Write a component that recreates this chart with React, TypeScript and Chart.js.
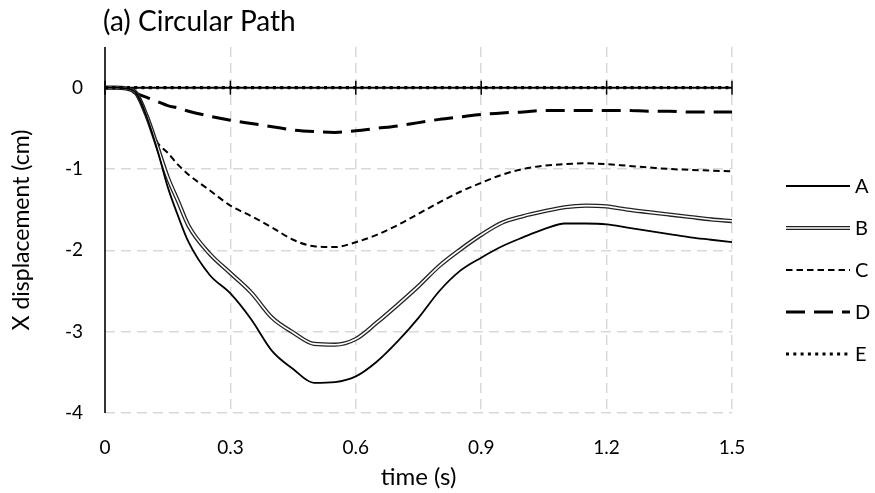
import React, { useEffect, useRef } from 'react';
import { Chart, registerables } from 'chart.js';

Chart.register(...registerables);

// ---- data (time in s, X displacement in cm) ----
const times = [
  0, 0.025, 0.05, 0.075, 0.1, 0.125, 0.15, 0.175, 0.2, 0.25, 0.3, 0.35, 0.4, 0.45,
  0.5, 0.55, 0.6, 0.65, 0.7, 0.75, 0.8, 0.85, 0.9, 0.95, 1.0, 1.05, 1.1, 1.15, 1.2,
  1.25, 1.3, 1.35, 1.4, 1.45, 1.5,
];
const seriesA = [
  0, 0, -0.01, -0.07, -0.36, -0.76, -1.22, -1.58, -1.9, -2.3, -2.53, -2.85, -3.24, -3.46,
  -3.63, -3.62, -3.55, -3.37, -3.12, -2.83, -2.5, -2.25, -2.09, -1.95, -1.84, -1.74, -1.67,
  -1.67, -1.68, -1.72, -1.76, -1.8, -1.84, -1.87, -1.9,
];
const seriesB = [
  0, 0, -0.01, -0.07, -0.35, -0.72, -1.1, -1.4, -1.7, -2.04, -2.28, -2.52, -2.83, -3.01,
  -3.15, -3.16, -3.09, -2.89, -2.67, -2.44, -2.19, -1.99, -1.81, -1.66, -1.58, -1.52, -1.47,
  -1.45, -1.46, -1.5, -1.53, -1.56, -1.59, -1.62, -1.64,
];
const seriesC = [
  0, 0, -0.01, -0.07, -0.36, -0.67, -0.8, -0.95, -1.07, -1.26, -1.45, -1.58, -1.72, -1.87,
  -1.95, -1.96, -1.9, -1.81, -1.69, -1.55, -1.41, -1.28, -1.17, -1.07, -1.0, -0.96, -0.94,
  -0.93, -0.94, -0.96, -0.98, -1.0, -1.01, -1.02, -1.03,
];
const seriesD = [
  0, 0, -0.01, -0.07, -0.12, -0.17, -0.22, -0.25, -0.29, -0.35, -0.4, -0.44, -0.48, -0.52,
  -0.54, -0.55, -0.53, -0.5, -0.47, -0.43, -0.39, -0.36, -0.33, -0.31, -0.3, -0.28, -0.28,
  -0.28, -0.28, -0.28, -0.29, -0.29, -0.3, -0.3, -0.3,
];
const seriesE = [
  0, 0, 0, 0, 0, 0, 0, 0, 0, 0, 0, 0, 0, 0, 0, 0, 0, 0, 0, 0, 0, 0, 0, 0, 0, 0, 0, 0, 0,
  0, 0, 0, 0, 0, 0,
];
const legendLabels = ['A', 'B', 'C', 'D', 'E'];
const xTicks = [0, 0.3, 0.6, 0.9, 1.2, 1.5];
const yTicks = [0, -1, -2, -3, -4];
const chartTitle = '(a) Circular Path';
const xTitle = 'time (s)';
const yTitle = 'X displacement (cm)';

const FONT = 'Lato, "Open Sans", sans-serif';

export default function App() {
  const ref = useRef<HTMLCanvasElement>(null);

  useEffect(() => {
    document.body.style.margin = '0';
    const canvas = ref.current;
    if (!canvas) return;

    const pts = (vals: number[]) => times.map((t, i) => ({ x: t, y: vals[i] }));
    const base = {
      pointRadius: 0,
      pointHoverRadius: 0,
      fill: false,
      cubicInterpolationMode: 'monotone' as const,
      borderJoinStyle: 'round' as const,
    };

    const datasets: any[] = [
      { label: 'A', data: pts(seriesA), borderColor: '#000', borderWidth: 1.8, order: 1, ...base },
      { label: 'B', data: pts(seriesB), borderColor: '#222', borderWidth: 4.2, order: 3, ...base },
      { label: 'B', inner: true, data: pts(seriesB), borderColor: '#fff', borderWidth: 1.6, order: 2, ...base },
      { label: 'C', data: pts(seriesC), borderColor: '#000', borderWidth: 2, borderDash: [6.5, 4], order: 4, ...base },
      { label: 'D', data: pts(seriesD), borderColor: '#000', borderWidth: 3, borderDash: [19, 9], order: 5, ...base },
      { label: 'E', data: pts(seriesE), borderColor: '#000', borderWidth: 3.2, borderDash: [3, 4.3], order: 0, ...base },
    ];

    const axesPlugin = {
      id: 'axesLines',
      beforeDatasetsDraw(chart: any) {
        const { ctx, chartArea, scales } = chart;
        const y0 = scales.y.getPixelForValue(0);
        ctx.save();
        ctx.strokeStyle = '#000';
        ctx.setLineDash([]);
        ctx.lineWidth = 1.6;
        ctx.beginPath();
        ctx.moveTo(chartArea.left, chartArea.top);
        ctx.lineTo(chartArea.left, chartArea.bottom);
        ctx.stroke();
        ctx.lineWidth = 2;
        ctx.beginPath();
        ctx.moveTo(chartArea.left, y0);
        ctx.lineTo(chartArea.right, y0);
        ctx.stroke();
        ctx.lineWidth = 1.5;
        xTicks.forEach((v) => {
          const px = scales.x.getPixelForValue(v);
          ctx.beginPath();
          ctx.moveTo(px, y0 - 7);
          ctx.lineTo(px, y0 + 7);
          ctx.stroke();
        });
        ctx.restore();
      },
    };

    const decorPlugin = {
      id: 'decor',
      afterDraw(chart: any) {
        const { ctx, chartArea } = chart;
        ctx.save();
        // title
        ctx.fillStyle = '#000';
        ctx.font = `28px ${FONT}`;
        ctx.textAlign = 'left';
        ctx.textBaseline = 'middle';
        ctx.fillText(chartTitle, chartArea.left - 2, 22);
        // legend
        const x0 = chartArea.right + 54;
        const x1 = chartArea.right + 118;
        const top = 186;
        const step = 42;
        legendLabels.forEach((lab, i) => {
          const y = top + i * step;
          const dss = chart.data.datasets
            .filter((d: any) => d.label === lab)
            .sort((a: any, b: any) => b.order - a.order);
          dss.forEach((d: any) => {
            ctx.strokeStyle = d.borderColor;
            ctx.lineWidth = d.borderWidth;
            ctx.setLineDash(d.borderDash || []);
            ctx.beginPath();
            ctx.moveTo(x0, y);
            ctx.lineTo(x1, y);
            ctx.stroke();
          });
          ctx.setLineDash([]);
          ctx.fillStyle = '#000';
          ctx.font = `20px ${FONT}`;
          ctx.textBaseline = 'middle';
          ctx.fillText(lab, x1 + 5, y + 1);
        });
        ctx.restore();
      },
    };

    const gridColor = (c: any) => (c.tick && c.tick.value === 0 ? 'rgba(0,0,0,0)' : '#d9d9d9');

    const chart = new Chart(canvas, {
      type: 'line',
      data: { datasets },
      plugins: [axesPlugin, decorPlugin],
      options: {
        animation: false,
        responsive: false,
        events: [],
        layout: { padding: { top: 47, right: 143, left: 0, bottom: 0 } },
        plugins: { legend: { display: false }, tooltip: { enabled: false }, title: { display: false } },
        scales: {
          x: {
            type: 'linear',
            min: 0,
            max: 1.5,
            afterBuildTicks: (s: any) => {
              s.ticks = xTicks.map((v) => ({ value: v }));
            },
            afterFit: (s: any) => {
              s.height = 80;
            },
            ticks: {
              autoSkip: false,
              maxRotation: 0,
              padding: 23,
              color: '#000',
              font: { family: FONT, size: 19 },
              callback: (v: any) => (v === 0 ? '0' : Number(v).toFixed(1)),
            },
            grid: { color: gridColor, lineWidth: 1.5, drawTicks: false },
            border: { display: false, dash: [10, 6] },
            title: {
              display: true,
              text: xTitle,
              color: '#000',
              font: { family: FONT, size: 24 },
              padding: { top: 0, bottom: 1 },
            },
          },
          y: {
            type: 'linear',
            min: -4,
            max: 0.5,
            afterBuildTicks: (s: any) => {
              s.ticks = yTicks.map((v) => ({ value: v }));
            },
            afterFit: (s: any) => {
              s.width = 105;
            },
            ticks: {
              padding: 22,
              color: '#000',
              font: { family: FONT, size: 19 },
              callback: (v: any) => String(v),
            },
            grid: { color: gridColor, lineWidth: 1.5, drawTicks: false },
            border: { display: false, dash: [10, 6] },
            title: {
              display: true,
              text: yTitle,
              color: '#000',
              font: { family: FONT, size: 23 },
              padding: { top: 8, bottom: 0 },
            },
          },
        },
      },
    });

    return () => chart.destroy();
  }, []);

  return (
    <div style={{ width: 875, height: 493 }}>
      <canvas ref={ref} width={875} height={493} style={{ display: 'block' }} />
    </div>
  );
}
